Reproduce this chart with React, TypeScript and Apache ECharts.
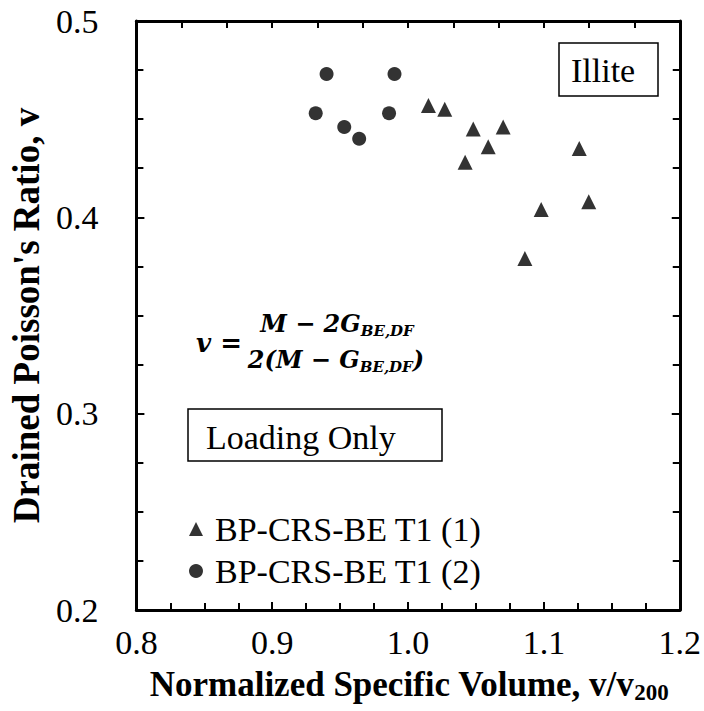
import React, { useEffect, useRef } from "react";
import * as echarts from "echarts";

const FONT = "Liberation Serif";

const xMin = 0.8;
const xMax = 1.2;
const xStep = 0.1;
const yMin = 0.2;
const yMax = 0.5;
const yStep = 0.1;

const series1Name = "BP-CRS-BE T1 (1)";
const series1X = [1.015, 1.027, 1.048, 1.070, 1.059, 1.042, 1.126, 1.133, 1.098, 1.086];
const series1Y = [0.457, 0.455, 0.445, 0.446, 0.436, 0.428, 0.435, 0.408, 0.404, 0.379];

const series2Name = "BP-CRS-BE T1 (2)";
const series2X = [0.932, 0.940, 0.953, 0.964, 0.986, 0.990];
const series2Y = [0.453, 0.473, 0.446, 0.440, 0.453, 0.473];

const xTitle = "Normalized Specific Volume, v/v";
const xTitleSub = "200";
const yTitle = "Drained Poisson's Ratio, v";
const boxIllite = "Illite";
const boxLoading = "Loading Only";

export default function App() {
  const ref = useRef<HTMLDivElement>(null);
  useEffect(() => {
    if (!ref.current) return;
    const chart = echarts.init(ref.current, null, { renderer: "svg" });
    const axisLine = { show: true, lineStyle: { color: "#000", width: 3 } };
    const tick = { show: true, inside: true, length: 8, lineStyle: { color: "#000", width: 2 } };
    const minor = { show: true, splitNumber: 4, length: 7, lineStyle: { color: "#000", width: 2 } };
    const label = { color: "#000", fontFamily: FONT, fontSize: 34 };
    const eq = { fill: "#000", fontFamily: "DejaVu Serif", fontWeight: "bold", fontStyle: "italic" };
    chart.setOption({
      animation: false,
      backgroundColor: "#fff",
      grid: { left: 126, right: 24, top: 21, bottom: 101, containLabel: false },
      xAxis: [
        {
          type: "value",
          min: xMin,
          max: xMax,
          interval: xStep,
          position: "bottom",
          axisLine,
          axisTick: tick,
          minorTick: minor,
          splitLine: { show: false },
          axisLabel: { ...label, margin: 15, formatter: (v: number) => v.toFixed(1) },
        },
        {
          type: "value",
          min: 0,
          max: 12,
          interval: 1,
          position: "top",
          axisLine,
          axisTick: { ...tick, length: 7 },
          splitLine: { show: false },
          axisLabel: { show: false },
        },
      ],
      yAxis: [
        {
          type: "value",
          min: yMin,
          max: yMax,
          interval: yStep,
          position: "left",
          axisLine,
          axisTick: tick,
          minorTick: minor,
          splitLine: { show: false },
          axisLabel: { ...label, margin: 38, formatter: (v: number) => v.toFixed(1) },
          name: yTitle,
          nameLocation: "middle",
          nameGap: 88,
          nameTextStyle: { color: "#000", fontFamily: FONT, fontSize: 37, fontWeight: "bold" },
        },
        {
          type: "value",
          min: yMin,
          max: yMax,
          interval: yStep,
          position: "right",
          axisLine,
          axisTick: tick,
          minorTick: minor,
          splitLine: { show: false },
          axisLabel: { show: false },
        },
      ],
      legend: {
        orient: "vertical",
        left: 184,
        top: 507,
        itemWidth: 14,
        itemHeight: 14,
        itemGap: 8,
        textStyle: { color: "#000", fontFamily: FONT, fontSize: 34, padding: [0, 0, 0, 7] },
        data: [
          { name: series1Name, icon: "triangle" },
          { name: series2Name, icon: "circle" },
        ],
      },
      series: [
        {
          name: series1Name,
          type: "scatter",
          symbol: "triangle",
          symbolSize: 15,
          itemStyle: { color: "#000" },
          data: series1X.map((x, i) => [x, series1Y[i]]),
        },
        {
          name: series2Name,
          type: "scatter",
          symbol: "circle",
          symbolSize: 14,
          itemStyle: { color: "#000" },
          data: series2X.map((x, i) => [x, series2Y[i]]),
        },
      ],
      graphic: [
        {
          type: "rect",
          shape: { x: 559, y: 43, width: 99, height: 53 },
          style: { fill: "#fff", stroke: "#000", lineWidth: 1.5 },
        },
        {
          type: "text",
          x: 571,
          y: 70,
          style: {
            text: boxIllite,
            fill: "#000",
            fontFamily: FONT,
            fontSize: 34,
            align: "left",
            verticalAlign: "middle",
          },
        },
        {
          type: "rect",
          shape: { x: 188, y: 409, width: 254, height: 52 },
          style: { fill: "#fff", stroke: "#000", lineWidth: 1.5 },
        },
        {
          type: "text",
          x: 206,
          y: 437,
          style: {
            text: boxLoading,
            fill: "#000",
            fontFamily: FONT,
            fontSize: 34,
            align: "left",
            verticalAlign: "middle",
          },
        },
        {
          type: "text",
          x: 219,
          y: 343,
          style: {
            text: "v =",
            ...eq,
            fontSize: 26,
            align: "center",
            verticalAlign: "middle",
          },
        },
        {
          type: "text",
          x: 337,
          y: 323,
          style: {
            text: "{m|M − 2G}{s|BE,DF}",
            align: "center",
            verticalAlign: "middle",
            rich: {
              m: { ...eq, fontSize: 24, lineHeight: 30 },
              s: { ...eq, fontSize: 15, lineHeight: 16, verticalAlign: "bottom" },
            },
          },
        },
        {
          type: "text",
          x: 336,
          y: 359,
          style: {
            text: "{m|2(M − G}{s|BE,DF}{m|)}",
            align: "center",
            verticalAlign: "middle",
            rich: {
              m: { ...eq, fontSize: 24, lineHeight: 30 },
              s: { ...eq, fontSize: 15, lineHeight: 16, verticalAlign: "bottom" },
            },
          },
        },
        {
          type: "text",
          x: 409,
          y: 684,
          style: {
            text: `{m|${xTitle}}{s|${xTitleSub}}`,
            align: "center",
            verticalAlign: "middle",
            rich: {
              m: { fill: "#000", fontFamily: FONT, fontWeight: "bold", fontSize: 35, lineHeight: 40 },
              s: { fill: "#000", fontFamily: FONT, fontWeight: "bold", fontSize: 23, lineHeight: 23, verticalAlign: "bottom" },
            },
          },
        },
      ],
    });
    return () => chart.dispose();
  }, []);
  return (
    <div
      ref={ref}
      style={{ position: "absolute", left: 0, top: 0, width: 704, height: 711 }}
    />
  );
}
